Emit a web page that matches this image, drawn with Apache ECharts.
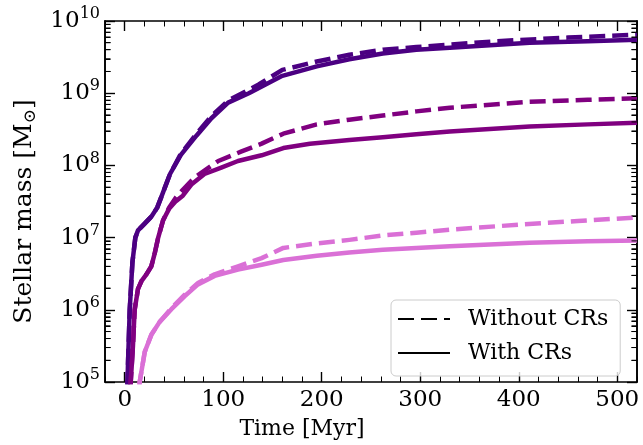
<!DOCTYPE html>
<html>
<head>
<meta charset="utf-8">
<script src="https://cdn.jsdelivr.net/npm/echarts@6/dist/echarts.min.js"></script>
<style>
html,body{margin:0;padding:0;background:#fff;}
#chart{width:643px;height:445px;}
</style>
</head>
<body>
<div id="chart"></div>
<script>
// ---- Data (time in Myr, stellar mass in Msun) ----
const tDarkCR = [2, 3.4, 5.1, 7.8, 10.8, 13.5, 20, 27, 33, 37, 46, 57, 73, 88, 105, 126, 160, 195, 228, 262, 296, 330, 411, 470, 520];
const mDarkCR = [4.0e4, 1.9e5, 1.0e6, 4.5e6, 1.0e7, 1.26e7, 1.55e7, 1.95e7, 2.6e7, 3.6e7, 7.6e7, 1.4e8, 2.6e8, 4.5e8, 7.4e8, 1.0e9, 1.74e9, 2.35e9, 2.95e9, 3.55e9, 4.0e9, 4.27e9, 5.0e9, 5.25e9, 5.5e9];
const tDarkNoCR = [2, 3.4, 5.1, 7.8, 10.8, 13.5, 20, 27, 33, 37, 46, 57, 73, 88, 105, 136, 160, 195, 228, 262, 296, 330, 377, 450, 520];
const mDarkNoCR = [4.0e4, 1.9e5, 1.0e6, 4.5e6, 1.0e7, 1.26e7, 1.55e7, 1.95e7, 2.6e7, 3.6e7, 7.6e7, 1.45e8, 2.75e8, 4.8e8, 7.9e8, 1.32e9, 2.1e9, 2.75e9, 3.4e9, 4.0e9, 4.35e9, 4.7e9, 5.25e9, 5.9e9, 6.45e9];

const tMidCR = [5, 6.1, 8.4, 10.1, 13.5, 17, 22, 27, 30.4, 34, 39, 45, 52, 59, 68, 81, 98, 115, 139, 161, 188, 228, 262, 296, 330, 411, 470, 520];
const mMidCR = [4.0e4, 1.0e5, 3.2e5, 1.0e6, 1.95e6, 2.5e6, 3.1e6, 4.0e6, 6.0e6, 1.0e7, 1.74e7, 2.5e7, 3.2e7, 3.8e7, 5.5e7, 7.6e7, 9.3e7, 1.15e8, 1.38e8, 1.74e8, 2.0e8, 2.25e8, 2.45e8, 2.7e8, 2.95e8, 3.45e8, 3.7e8, 3.9e8];
const tMidNoCR = [5, 6.1, 8.4, 10.1, 13.5, 17, 22, 27, 30.4, 34, 39, 45, 52, 59, 71, 95, 118, 139, 161, 195, 228, 262, 296, 330, 411, 470, 520];
const mMidNoCR = [4.0e4, 1.0e5, 3.2e5, 1.0e6, 1.95e6, 2.5e6, 3.1e6, 4.0e6, 6.0e6, 1.0e7, 1.74e7, 2.6e7, 3.6e7, 4.6e7, 6.8e7, 1.15e8, 1.55e8, 2.0e8, 2.75e8, 3.7e8, 4.3e8, 4.9e8, 5.6e8, 6.3e8, 7.6e8, 8.1e8, 8.5e8];

const tLightCR = [13, 15.2, 20.3, 27, 35.5, 47.4, 61, 74.4, 91.3, 115, 139, 161, 195, 228, 262, 296, 330, 411, 470, 520];
const mLightCR = [4.0e4, 1.0e5, 2.6e5, 4.5e5, 6.8e5, 1.02e6, 1.55e6, 2.25e6, 2.95e6, 3.6e6, 4.2e6, 4.9e6, 5.6e6, 6.2e6, 6.8e6, 7.2e6, 7.6e6, 8.5e6, 8.9e6, 9.1e6];
const tLightNoCR = [13, 15.2, 20.3, 27, 35.5, 47.4, 61, 74.4, 91.3, 115, 139, 161, 195, 228, 262, 296, 330, 400, 460, 520];
const mLightNoCR = [4.0e4, 1.0e5, 2.6e5, 4.5e5, 6.8e5, 1.05e6, 1.62e6, 2.35e6, 3.1e6, 4.0e6, 5.2e6, 7.2e6, 8.3e6, 9.3e6, 1.07e7, 1.17e7, 1.29e7, 1.51e7, 1.7e7, 1.9e7];

const xMajorTicks = [0, 100, 200, 300, 400, 500];
const yMajorTicks = [1e5, 1e6, 1e7, 1e8, 1e9, 1e10];
const yMinorMultipliers = [2, 3, 4, 5, 6, 7, 8, 9];
const yDecades = [5, 6, 7, 8, 9];

const legendNames = ['Without CRs', 'With CRs'];

// minor tick positions in log10 space (for linear helper axes spanning 5..10)
const yMinorLog = [];
yDecades.forEach(e => yMinorMultipliers.forEach(k => yMinorLog.push(e + Math.log10(k))));

// ---- Styling ----
const FONT = 'DejaVu Serif';
const cDark = '#4b0082', cMid = '#800080', cLight = '#da70d6';
const DASH = [16, 7];
const LW = 4.5;
const MINOR_LEN = 5.5;
const X_MIN = -20, X_MAX = 520;

function pairs(t, m) { return t.map((v, i) => [v, m[i]]); }
function lineSeries(name, t, m, color, dashed) {
  return {
    name: name, type: 'line', xAxisIndex: 0, yAxisIndex: 0,
    data: pairs(t, m), showSymbol: false, symbol: 'none', clip: true,
    lineStyle: { color: color, width: LW, type: dashed ? DASH : 'solid', cap: 'butt', join: 'round' },
    itemStyle: { color: color }, emphasis: { disabled: true }, silent: true
  };
}

const baseX = { type: 'value', min: X_MIN, max: X_MAX, splitLine: { show: false } };
const baseY = { type: 'log', logBase: 10, min: 1e5, max: 1e10, splitLine: { show: false } };
const baseYLin = { type: 'value', min: 5, max: 10, splitLine: { show: false } };
const axisLine = { show: true, onZero: false, lineStyle: { color: '#000', width: 1.6 } };

const chart = echarts.init(document.getElementById('chart'), null, { renderer: 'canvas' });
chart.setOption({
  animation: false,
  backgroundColor: '#fff',
  grid: { left: 105, right: 6, top: 21, bottom: 57, containLabel: false },
  xAxis: [
    Object.assign({}, baseX, {
      position: 'bottom', axisLine: axisLine,
      axisTick: { show: true, inside: true, length: 10, customValues: xMajorTicks, lineStyle: { color: '#000', width: 1.4 } },
      axisLabel: { show: true, customValues: xMajorTicks, fontFamily: FONT, fontSize: 23, color: '#000', margin: 7 },
      name: 'Time [Myr]', nameLocation: 'middle', nameGap: 36,
      nameTextStyle: { fontFamily: FONT, fontSize: 22, color: '#000', padding: [0, 138, 0, 0] }
    }),
    Object.assign({}, baseX, {
      position: 'bottom', interval: 20, axisLine: { show: false },
      axisTick: { show: true, inside: true, length: MINOR_LEN, lineStyle: { color: '#000', width: 1 } },
      axisLabel: { show: false }
    }),
    Object.assign({}, baseX, {
      position: 'top', axisLine: axisLine,
      axisTick: { show: true, inside: true, length: 10, customValues: xMajorTicks, lineStyle: { color: '#000', width: 1.4 } },
      axisLabel: { show: false }
    }),
    Object.assign({}, baseX, {
      position: 'top', interval: 20, axisLine: { show: false },
      axisTick: { show: true, inside: true, length: MINOR_LEN, lineStyle: { color: '#000', width: 1 } },
      axisLabel: { show: false }
    })
  ],
  yAxis: [
    Object.assign({}, baseY, {
      position: 'left', axisLine: axisLine,
      axisTick: { show: true, inside: true, length: 10, customValues: yMajorTicks, lineStyle: { color: '#000', width: 1.4 } },
      axisLabel: {
        show: true, customValues: yMajorTicks, margin: 5,
        formatter: function (v) { return '{a|10}{b|' + Math.round(Math.log10(v)) + '}'; },
        rich: {
          a: { fontFamily: FONT, fontSize: 23, color: '#000', lineHeight: 30 },
          b: { fontFamily: FONT, fontSize: 16, color: '#000', lineHeight: 16, verticalAlign: 'top' }
        }
      },
      name: 'Stellar mass [M{s|⊙}]', nameLocation: 'middle', nameGap: 64, nameRotate: 90,
      nameTextStyle: {
        fontFamily: FONT, fontSize: 25, color: '#000', padding: [0, 20, 0, 0],
        rich: { s: { fontFamily: FONT, fontSize: 17, color: '#000', verticalAlign: 'bottom', lineHeight: 30, padding: [8, 0, 0, 0] } }
      }
    }),
    Object.assign({}, baseY, {
      position: 'right', axisLine: axisLine,
      axisTick: { show: true, inside: true, length: 10, customValues: yMajorTicks, lineStyle: { color: '#000', width: 1.4 } },
      axisLabel: { show: false }
    }),
    Object.assign({}, baseYLin, {
      position: 'left', axisLine: axisLine,
      axisTick: { show: true, inside: true, length: MINOR_LEN, customValues: yMinorLog, lineStyle: { color: '#000', width: 1 } },
      axisLabel: { show: false }
    }),
    Object.assign({}, baseYLin, {
      position: 'right', axisLine: axisLine,
      axisTick: { show: true, inside: true, length: MINOR_LEN, customValues: yMinorLog, lineStyle: { color: '#000', width: 1 } },
      axisLabel: { show: false }
    })
  ],
  legend: {
    data: legendNames,
    orient: 'vertical', left: 391, top: 300,
    padding: [6, 12, 10, 6], itemGap: 8, itemWidth: 52, itemHeight: 8,
    backgroundColor: 'rgba(255,255,255,0.8)', borderColor: '#cccccc', borderWidth: 1, borderRadius: 5,
    selectedMode: false,
    itemStyle: { opacity: 0 },
    textStyle: { fontFamily: FONT, fontSize: 22, color: '#000', lineHeight: 26, padding: [0, 0, 0, 13] }
  },
  series: [
    lineSeries('darkCR', tDarkCR, mDarkCR, cDark, false),
    lineSeries('darkNoCR', tDarkNoCR, mDarkNoCR, cDark, true),
    lineSeries('midCR', tMidCR, mMidCR, cMid, false),
    lineSeries('midNoCR', tMidNoCR, mMidNoCR, cMid, true),
    lineSeries('lightCR', tLightCR, mLightCR, cLight, false),
    lineSeries('lightNoCR', tLightNoCR, mLightNoCR, cLight, true),
    lineSeries(legendNames[0], [], [], '#000', true),
    lineSeries(legendNames[1], [], [], '#000', false)
  ]
});

// Backup: minor y ticks placed through the linear helper axis scale (same positions)
const xl = chart.convertToPixel({ xAxisIndex: 0 }, X_MIN);
const xr = chart.convertToPixel({ xAxisIndex: 0 }, X_MAX);
const minorGraphics = [];
yMinorLog.forEach(v => {
  const y = chart.convertToPixel({ yAxisIndex: 2 }, v);
  if (isFinite(y) && isFinite(xl) && isFinite(xr)) {
    minorGraphics.push({ type: 'line', silent: true, z: 100, shape: { x1: xl, y1: y, x2: xl + MINOR_LEN, y2: y }, style: { stroke: '#000', lineWidth: 1 } });
    minorGraphics.push({ type: 'line', silent: true, z: 100, shape: { x1: xr - MINOR_LEN, y1: y, x2: xr, y2: y }, style: { stroke: '#000', lineWidth: 1 } });
  }
});
if (minorGraphics.length) chart.setOption({ graphic: { elements: minorGraphics } });
</script>
</body>
</html>
